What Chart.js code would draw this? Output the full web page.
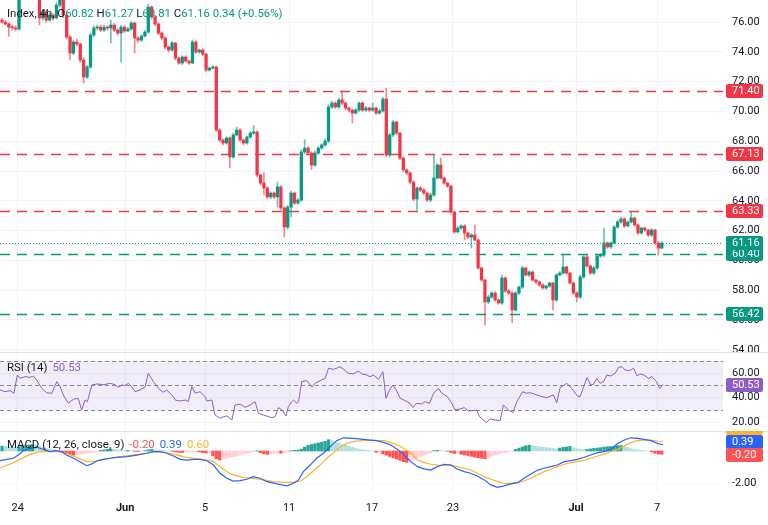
<!DOCTYPE html>
<html lang="en">
<head>
  <meta charset="UTF-8">
  <title>Index, 4h</title>
  <script src="https://cdn.jsdelivr.net/npm/chart.js"></script>
  <style>
    body { margin: 0; background: #fff; font-family: Roboto, sans-serif; }
    #wrap { position: relative; width: 768px; height: 525px; overflow: hidden; background: #fff; }
    canvas { position: absolute; left: 0; }
    .lg { position: absolute; left: 7px; font-size: 11.4px; line-height: 14px; color: #131722; white-space: pre; }
    .up { color: #089981; }
    .gap { margin-left: 5px; }
  </style>
</head>
<body>
<div id="wrap">
  <canvas id="price" width="768" height="352" style="top:0"></canvas>
  <canvas id="rsi" width="768" height="79" style="top:352px"></canvas>
  <canvas id="macd" width="768" height="94" style="top:431px"></canvas>
  <div class="lg" id="head" style="top:6px"></div>
  <div class="lg" id="rsiLg" style="top:360px"></div>
  <div class="lg" id="macdLg" style="top:437px"></div>
</div>
<script>
// time axis
const tickLabels = ['24', 'Jun', '5', '11', '17', '23', 'Jul', '7'];
const tickBars = [4.6, 36.2, 59.7, 84.4, 108.8, 132.6, 168.8, 192.6];
const monthLabels = ['Jun', 'Jul'];

// 4h candles
const opens = [76.13,76.00,75.87,75.66,75.60,75.53,78.15,78.40,78.60,78.30,78.50,78.20,76.27,76.67,76.13,76.47,76.27,77.14,78.01,76.47,
  74.99,73.92,74.66,74.52,73.45,72.31,72.98,75.13,75.60,75.66,75.46,75.66,75.60,75.80,75.46,75.26,75.66,75.40,75.53,75.93,
  74.93,74.79,75.06,75.33,77.01,76.34,75.87,75.26,74.93,74.32,74.12,74.59,73.58,73.25,73.65,73.38,73.25,74.66,73.99,74.12,
  73.85,72.78,72.91,72.98,68.75,68.08,67.88,68.22,66.94,68.42,68.75,68.08,67.88,68.28,68.55,68.62,65.73,65.19,64.86,64.26,
  64.52,64.26,64.93,63.52,62.24,63.58,64.52,63.85,64.05,67.28,67.54,67.21,66.40,67.21,67.54,67.75,68.01,70.30,70.56,70.30,
  70.77,70.56,70.23,70.09,69.89,70.09,70.56,70.09,70.23,70.09,70.23,69.89,70.03,70.83,67.07,68.42,69.29,68.55,66.87,66.07,
  65.87,65.26,64.12,64.86,64.73,64.52,64.05,64.39,65.53,66.40,65.53,65.19,64.99,63.25,61.91,62.17,62.31,61.84,61.57,61.70,
  61.37,59.49,58.68,57.21,57.54,57.81,57.34,57.14,58.82,57.95,57.81,56.67,57.81,58.21,59.49,59.02,59.22,58.68,58.55,58.35,
  58.15,58.28,58.48,57.34,59.02,59.15,59.56,59.15,58.48,57.81,57.54,58.89,60.23,59.62,59.15,59.49,60.29,60.36,61.17,60.90,
  61.17,62.24,62.58,62.78,62.31,62.58,62.85,62.38,61.84,62.17,62.04,61.70,62.04,61.17,60.82];
const highs = [76.25,76.10,75.95,75.80,75.75,78.48,78.70,78.90,78.80,78.70,78.60,78.30,76.85,76.80,76.60,76.55,77.30,78.30,78.10,76.60,
  75.10,74.80,74.85,74.60,73.60,73.10,75.25,75.75,75.80,75.80,75.80,75.75,76.13,75.90,75.55,75.80,75.75,75.65,76.05,76.00,
  75.00,75.15,75.45,77.20,77.10,76.45,75.95,75.35,75.00,74.40,74.70,74.65,73.65,73.75,73.75,73.45,74.80,74.75,74.20,74.20,
  73.90,73.00,73.10,73.05,68.85,68.15,68.30,68.30,68.55,68.95,68.85,68.15,68.35,68.65,69.05,68.70,65.80,65.87,64.95,64.60,
  64.60,65.26,65.00,63.60,63.70,64.65,64.60,64.15,67.45,68.10,67.65,67.30,67.35,67.65,67.85,68.15,70.45,70.70,70.65,70.90,
  71.30,70.65,70.30,70.15,70.20,70.65,70.65,70.35,70.30,70.56,70.30,70.15,70.95,71.55,68.55,69.40,69.35,68.60,66.95,66.15,
  65.95,65.35,64.95,64.95,64.80,64.60,64.50,67.07,66.50,66.87,65.60,65.25,65.05,63.30,62.30,62.40,62.40,61.90,61.80,62.38,
  61.45,59.55,58.75,57.65,57.90,57.90,57.40,59.02,58.90,58.05,57.90,57.90,58.30,59.60,59.55,59.30,59.30,58.75,58.60,58.45,
  58.35,58.55,58.55,59.10,59.25,60.36,59.60,59.20,58.55,57.90,59.00,60.35,60.36,59.70,59.60,60.36,60.45,62.17,61.25,61.25,
  62.35,62.70,62.90,62.85,62.65,63.25,62.90,62.45,62.25,62.25,62.10,62.15,62.10,61.25,61.27];
const lows = [75.93,75.80,75.06,75.45,75.40,75.45,78.00,78.20,78.10,78.10,77.90,75.80,76.13,76.00,76.05,76.13,76.20,77.00,76.30,74.85,
  73.45,73.80,74.40,73.30,71.91,72.20,72.90,75.00,75.45,75.35,75.35,75.45,74.59,75.35,75.10,73.32,75.30,75.35,75.45,73.92,
  74.65,74.70,75.00,75.25,76.20,75.75,75.15,74.80,74.20,74.00,74.05,73.45,73.15,73.15,73.30,73.15,73.20,73.90,73.90,73.75,
  72.65,72.70,72.85,68.65,67.95,67.75,67.80,66.20,66.85,68.35,67.95,67.75,67.80,68.20,68.45,65.60,65.05,64.39,64.15,64.15,
  64.15,63.58,63.40,61.57,62.10,62.91,63.75,63.75,63.95,67.15,67.10,66.10,66.30,67.10,67.45,67.65,67.90,70.20,70.20,70.20,
  70.45,70.10,69.95,69.22,69.80,70.00,70.00,70.00,70.00,70.00,69.80,69.80,69.95,66.95,66.95,68.30,68.45,66.75,65.95,65.75,
  65.15,64.00,63.38,64.60,64.40,63.95,63.95,64.30,65.45,65.45,65.10,64.90,63.15,61.80,61.85,62.10,61.37,61.45,60.83,61.30,
  59.40,58.60,55.67,57.10,57.45,57.25,57.05,57.05,57.85,57.70,55.80,56.60,57.70,58.10,58.95,58.90,58.60,58.45,58.25,58.05,
  58.05,58.20,56.67,57.25,58.95,59.05,59.05,58.40,57.70,57.21,57.45,58.80,59.55,59.05,59.05,59.40,60.20,60.25,60.80,60.80,
  61.10,62.15,62.50,62.20,62.25,62.50,62.30,61.75,61.75,61.95,61.60,61.60,61.05,60.36,60.81];
const closes = [76.00,75.87,75.66,75.60,75.53,78.15,78.40,78.60,78.30,78.50,78.20,76.27,76.67,76.13,76.47,76.27,77.14,78.01,76.47,74.99,
  73.92,74.66,74.52,73.45,72.31,72.98,75.13,75.60,75.66,75.46,75.66,75.60,75.80,75.46,75.26,75.66,75.40,75.53,75.93,74.93,
  74.79,75.06,75.33,77.01,76.34,75.87,75.26,74.93,74.32,74.12,74.59,73.58,73.25,73.65,73.38,73.25,74.66,73.99,74.12,73.85,
  72.78,72.91,72.98,68.75,68.08,67.88,68.22,66.94,68.42,68.75,68.08,67.88,68.28,68.55,68.62,65.73,65.19,64.86,64.26,64.52,
  64.26,64.93,63.52,62.24,63.58,64.52,63.85,64.05,67.28,67.54,67.21,66.40,67.21,67.54,67.75,68.01,70.30,70.56,70.30,70.77,
  70.56,70.23,70.09,69.89,70.09,70.56,70.09,70.23,70.09,70.23,69.89,70.03,70.83,67.07,68.42,69.29,68.55,66.87,66.07,65.87,
  65.26,64.12,64.86,64.73,64.52,64.05,64.39,65.53,66.40,65.53,65.19,64.99,63.25,61.91,62.17,62.31,61.84,61.57,61.70,61.37,
  59.49,58.68,57.21,57.54,57.81,57.34,57.14,58.82,57.95,57.81,56.67,57.81,58.21,59.49,59.02,59.22,58.68,58.55,58.35,58.15,
  58.28,58.48,57.34,59.02,59.15,59.56,59.15,58.48,57.81,57.54,58.89,60.23,59.62,59.15,59.49,60.29,60.36,61.17,60.90,61.17,
  62.24,62.58,62.78,62.31,62.58,62.85,62.38,61.84,62.17,62.04,61.70,62.04,61.17,60.82,61.16];

// horizontal levels and price ticks
const priceLevels = [71.40, 67.13, 63.33, 60.40, 56.42];
const priceTicks = [54, 56, 58, 60, 62, 64, 66, 68, 70, 72, 74, 76];

// RSI (14)
const rsiBars = [-0.6,0.9,2.4,3.5,4.5,5.3,6.8,8.2,9.2,10.2,11.7,13.1,14.6,16.1,17.1,18.0,19.5,21.0,22.4,23.4,
  24.4,25.1,26.4,27.9,29.8,31.8,33.2,34.2,35.2,36.2,37.2,38.1,39.1,40.6,42.1,43.0,44.5,46.0,47.4,48.4,
  49.4,50.4,50.9,52.4,53.8,54.8,55.8,56.8,58.2,59.7,60.2,61.7,62.6,64.1,65.1,66.1,67.6,68.5,70.0,71.5,
  72.9,74.4,75.4,76.9,78.3,79.3,80.3,81.3,82.3,83.5,84.2,85.2,85.7,86.7,87.2,88.1,89.6,91.1,92.1,93.5,
  95.0,96.0,97.4,98.4,99.4,100.4,101.9,103.3,104.8,105.8,107.3,108.2,109.2,110.7,112.0,112.9,113.9,114.9,115.9,117.1,
  118.5,120.0,120.8,121.8,123.4,124.4,125.7,126.9,128.3,129.3,130.9,132.3,133.2,134.7,135.9,137.1,138.4,139.6,140.4,141.4,
  142.4,143.5,145.0,146.5,147.4,148.9,150.2,151.4,153.1,154.3,155.3,157.3,158.7,160.2,162.1,163.1,164.1,166.1,167.5,169.2,
  170.0,172.0,173.1,173.9,174.9,175.9,176.9,177.8,179.0,180.3,181.3,182.3,183.2,184.5,185.7,186.7,187.6,188.8,190.1,191.1,
  192.4,193.4,194.4];
const rsiValues = [46.2,44.8,45.6,43.5,58.4,55.7,57.1,56.5,57.6,54.3,47.5,44.0,43.4,53.0,48.9,42.1,35.3,38.6,39.4,29.9,
  38.0,36.6,50.2,51.1,50.5,51.6,50.5,48.4,50.2,50.0,51.6,48.9,44.8,46.2,48.9,59.8,53.0,47.5,44.3,46.2,
  43.5,40.8,38.0,37.2,38.0,36.7,48.9,43.5,44.8,40.8,37.2,38.0,25.8,23.1,24.4,25.0,21.7,33.9,34.7,32.0,
  33.9,36.7,27.1,25.8,24.4,23.6,24.4,31.8,29.9,25.0,32.6,36.7,38.0,35.3,36.7,53.0,53.8,48.9,51.6,53.8,
  55.7,63.9,63.1,63.9,65.2,63.1,59.8,59.3,61.7,59.3,58.4,57.0,58.4,54.9,61.1,39.4,46.2,50.2,46.2,39.4,
  37.5,35.3,31.8,35.3,34.8,36.7,35.3,43.5,47.5,43.5,40.8,35.3,29.9,30.7,31.8,29.1,29.3,29.9,24.4,22.2,
  19.5,22.5,21.7,21.2,33.9,29.9,27.7,36.7,44.8,43.5,44.0,42.1,40.8,39.9,42.1,35.8,48.1,51.6,47.5,41.3,
  40.8,56.3,50.2,50.8,55.7,51.6,53.0,58.4,57.6,59.8,64.7,65.2,62.5,62.0,63.9,57.6,59.3,58.4,55.7,57.1,
  53.0,47.5,50.53];
const rsiLevels = [70, 50, 30];
const rsiTicks = [20, 40, 60];

// MACD (12, 26, close, 9)
const macdBars = [-0.6,1.4,3.3,4.8,6.3,8.2,10.2,12.2,14.1,15.6,17.5,19.0,21.0,22.9,24.9,26.4,27.8,29.8,31.8,33.7,
  36.7,39.6,42.5,44.5,46.5,48.4,50.4,52.4,54.3,56.3,58.2,60.2,62.2,64.1,66.1,68.0,70.0,72.0,73.9,75.9,
  77.9,80.8,83.7,85.7,87.2,88.6,90.6,92.5,94.5,96.5,98.4,100.4,103.3,106.3,108.2,110.2,
  112.4,114.3,116.3,118.2,120.2,122.2,124.1,126.1,128.0,130.0,132.0,133.9,135.9,137.8,139.8,141.8,143.7,145.7,147.6,149.6,
  151.6,153.5,155.5,157.5,159.4,161.4,163.3,165.3,167.3,169.2,171.2,173.1,175.1,177.1,179.0,181.0,183.0,184.9,186.9,188.8,
  190.8,192.7,194.4];
const macdValues = [-0.60,-0.52,-0.45,-0.25,0.02,0.16,0.23,0.10,-0.04,0.02,-0.04,-0.25,-0.45,-0.66,-0.91,-0.80,-0.62,-0.52,-0.45,-0.39,
  -0.35,-0.25,-0.14,-0.04,-0.04,-0.14,-0.31,-0.52,-0.56,-0.52,-0.52,-0.60,-0.87,-1.38,-1.69,-1.86,-1.84,-1.75,-1.59,-1.69,
  -1.90,-2.04,-2.16,-2.00,-1.79,-1.28,-0.87,-0.45,-0.14,0.27,0.64,0.82,0.78,0.72,0.68,0.64,
  0.52,0.37,0.10,-0.25,-0.66,-0.97,-1.11,-1.18,-0.97,-0.82,-0.87,-1.13,-1.28,-1.38,-1.55,-1.79,-2.10,-2.25,-2.16,-2.04,
  -1.96,-1.69,-1.42,-1.18,-1.07,-0.97,-0.87,-0.66,-0.60,-0.52,-0.39,-0.25,-0.10,-0.04,0.10,0.47,0.68,0.82,0.78,0.72,
  0.64,0.47,0.39];
const signalBars = [-0.6,2.4,5.3,8.2,11.2,14.1,16.6,19.0,22.0,24.9,26.9,28.8,31.8,34.7,38.6,42.5,45.5,48.4,51.4,54.3,
  57.3,60.2,62.2,64.1,66.1,68.0,71.0,73.9,76.9,79.8,82.7,85.7,87.7,89.6,91.6,93.5,95.5,97.5,99.4,101.4,
  103.3,105.3,108.2,111.2,
  112.4,114.3,116.3,118.2,120.2,122.2,124.1,126.1,128.0,130.0,132.0,133.9,135.9,137.8,139.8,141.8,143.7,145.7,147.6,149.6,
  151.6,153.5,155.5,157.5,159.4,161.4,163.3,165.3,167.3,169.2,171.2,173.1,175.1,177.1,179.0,181.0,183.0,184.9,186.9,188.8,
  190.8,192.7,194.4];
const signalValues = [-1.07,-0.80,-0.52,-0.21,-0.04,-0.04,-0.04,-0.14,-0.41,-0.66,-0.66,-0.56,-0.45,-0.35,-0.25,-0.14,-0.04,-0.10,-0.25,-0.39,
  -0.47,-0.56,-0.66,-0.97,-1.28,-1.48,-1.65,-1.69,-1.79,-1.90,-1.94,-1.94,-1.86,-1.59,-1.22,-0.87,-0.45,-0.10,0.23,0.47,
  0.58,0.64,0.68,0.64,
  0.64,0.52,0.37,0.16,-0.14,-0.56,-0.72,-0.82,-0.87,-0.89,-0.87,-0.97,-1.07,-1.18,-1.38,-1.59,-1.75,-1.90,-2.00,-2.00,
  -1.96,-1.86,-1.69,-1.48,-1.28,-1.13,-0.97,-0.82,-0.72,-0.66,-0.56,-0.45,-0.31,-0.19,-0.04,0.10,0.31,0.52,0.64,0.68,
  0.68,0.62,0.60];
const histValues = [0.30,0.28,0.26,0.24,0.22,0.26,0.32,0.36,0.38,0.40,0.36,0.30,0.22,0.16,0.12,0.08,0.05,0.03,-0.06,-0.14,
  -0.22,-0.26,-0.22,-0.18,-0.15,-0.13,-0.11,-0.08,-0.04,0.04,0.07,0.10,0.12,0.10,0.07,0.05,0.03,0.04,0.02,-0.02,
  -0.03,-0.01,0.02,0.07,0.10,0.08,0.06,0.05,0.03,0.01,-0.02,-0.06,-0.08,-0.09,-0.07,-0.05,-0.04,-0.03,-0.05,-0.10,
  -0.13,-0.11,-0.30,-0.48,-0.56,-0.52,-0.46,-0.40,-0.35,-0.30,-0.25,-0.20,-0.15,-0.09,-0.04,0.02,-0.10,-0.18,-0.21,-0.18,
  -0.15,-0.10,-0.14,-0.10,-0.05,0.02,0.04,0.06,0.12,0.25,0.35,0.40,0.45,0.50,0.55,0.60,0.70,0.64,0.56,0.48,
  0.42,0.35,0.30,0.25,0.18,0.12,0.08,0.05,0.03,0.01,-0.08,-0.06,-0.18,-0.25,-0.34,-0.42,-0.50,-0.58,-0.66,-0.70,
  -0.68,-0.52,-0.42,-0.34,-0.26,-0.18,-0.12,0.02,0.03,0.02,0.01,-0.02,-0.10,-0.15,-0.14,-0.20,-0.24,-0.28,-0.33,-0.38,
  -0.42,-0.45,-0.48,-0.44,-0.32,-0.24,-0.18,-0.13,-0.10,-0.06,-0.03,0.10,0.18,0.25,0.32,0.36,0.32,0.29,0.26,0.23,
  0.21,0.18,0.16,0.14,0.18,0.22,0.25,0.28,0.20,0.14,0.11,0.08,0.10,0.13,0.16,0.18,0.21,0.24,0.26,0.28,
  0.30,0.33,0.34,0.27,0.21,0.15,0.10,0.06,0.04,0.02,0.00,-0.06,-0.14,-0.19,-0.20];
const macdTicks = [-2];

// ---- look ----
const UP = '#089981', DOWN = '#F23645';
const RSI_C = '#8E5CC8', MACD_C = '#2962FF', SIG_C = '#FDB42A';
const GRID = '#F0F3FA', SEP = '#E0E3EB', FONT = 'Roboto';
const xMin = -0.6, xMax = 212;
Chart.defaults.font.family = FONT;
Chart.defaults.font.size = 11;
Chart.defaults.color = '#131722';

const last = closes.length - 1;
const bars = closes.map((_, i) => i);

// scales must not push the plot area in for their edge labels
function noPad(s) { s.paddingTop = 0; s.paddingBottom = 0; s.paddingLeft = 0; s.paddingRight = 0; }

function xScale(showLabels) {
  return {
    type: 'linear', min: xMin, max: xMax, offset: false,
    afterBuildTicks: s => { s.ticks = tickBars.map(v => ({ value: v })); },
    grid: { color: GRID, drawTicks: false, offset: false },
    border: { display: false },
    ticks: {
      display: showLabels, autoSkip: false, maxRotation: 0, padding: 10,
      callback: (v, i) => tickLabels[i],
      font: c => ({ family: FONT, size: 11, weight: monthLabels.includes(tickLabels[c.index]) ? 'bold' : 'normal' })
    },
    afterFit: s => { s.height = showLabels ? 33 : 0; noPad(s); }
  };
}
function yScale(min, max, ticks, dash) {
  return {
    position: 'right', min: min, max: max,
    afterBuildTicks: s => { s.ticks = ticks.map(v => ({ value: v })); },
    ticks: { padding: 9, callback: v => v.toFixed(2) },
    grid: { color: GRID, drawTicks: false },
    border: { display: false, dash: dash || [] },
    afterFit: s => { s.width = 45; noPad(s); }
  };
}
function box(ctx, y, bg, text) {
  ctx.fillStyle = bg;
  ctx.beginPath();
  ctx.roundRect(726, Math.round(y) - 7, 37, 14, 2);
  ctx.fill();
  ctx.fillStyle = '#fff';
  ctx.font = '11px ' + FONT;
  ctx.textBaseline = 'middle';
  ctx.textAlign = 'left';
  ctx.fillText(text, 732, Math.round(y) + 0.5);
}
function separator(ctx) {
  ctx.save();
  ctx.strokeStyle = SEP; ctx.lineWidth = 1;
  ctx.beginPath(); ctx.moveTo(0, 0.5); ctx.lineTo(768, 0.5); ctx.stroke();
  ctx.restore();
}
const baseOpts = {
  responsive: false, animation: false, events: [],
  layout: { padding: 0, autoPadding: false },
  plugins: { legend: { display: false }, tooltip: { enabled: false } }
};

// price pane
new Chart(document.getElementById('price'), {
  type: 'bar',
  data: {
    datasets: [
      {
        data: bars.map(i => ({ x: i, y: [opens[i], closes[i]] })),
        backgroundColor: bars.map(i => closes[i] >= opens[i] ? UP : DOWN),
        barThickness: 2.6, grouped: false, minBarLength: 1
      },
      {
        data: bars.map(i => ({ x: i, y: [lows[i], highs[i]] })),
        backgroundColor: bars.map(i => closes[i] >= opens[i] ? 'rgba(8,153,129,0.6)' : 'rgba(242,54,69,0.6)'),
        barThickness: 1, grouped: false
      }
    ]
  },
  options: Object.assign({}, baseOpts, {
    scales: { x: xScale(false), y: yScale(53.85, 77.48, priceTicks) }
  }),
  plugins: [{
    id: 'levels',
    beforeDatasetsDraw(chart) {
      const { ctx, chartArea: a, scales: { y } } = chart;
      ctx.save();
      ctx.lineWidth = 1.5;
      ctx.setLineDash([10, 7]);
      priceLevels.forEach(v => {
        const py = Math.round(y.getPixelForValue(v)) + 0.5;
        ctx.strokeStyle = v > closes[last] ? DOWN : UP;
        ctx.beginPath(); ctx.moveTo(a.left, py); ctx.lineTo(a.right, py); ctx.stroke();
      });
      ctx.lineWidth = 1;
      ctx.setLineDash([1, 2]);
      ctx.strokeStyle = UP;
      const lp = Math.round(y.getPixelForValue(closes[last])) + 0.5;
      ctx.beginPath(); ctx.moveTo(a.left, lp); ctx.lineTo(a.right, lp); ctx.stroke();
      ctx.restore();
    },
    afterDraw(chart) {
      const { ctx, scales: { y } } = chart;
      ctx.save();
      priceLevels.forEach(v => box(ctx, y.getPixelForValue(v), v > closes[last] ? DOWN : UP, v.toFixed(2)));
      box(ctx, y.getPixelForValue(closes[last]), UP, closes[last].toFixed(2));
      ctx.restore();
    }
  }]
});

// RSI pane
new Chart(document.getElementById('rsi'), {
  type: 'line',
  data: {
    datasets: [{
      data: rsiBars.map((b, i) => ({ x: b, y: rsiValues[i] })),
      borderColor: RSI_C, borderWidth: 1, pointRadius: 0, tension: 0
    }]
  },
  options: Object.assign({}, baseOpts, {
    scales: { x: xScale(false), y: yScale(12.7, 77.2, rsiTicks) }
  }),
  plugins: [{
    id: 'band',
    beforeDatasetsDraw(chart) {
      const { ctx, chartArea: a, scales: { y } } = chart;
      ctx.save();
      const top = y.getPixelForValue(rsiLevels[0]), bot = y.getPixelForValue(rsiLevels[2]);
      ctx.fillStyle = 'rgba(126,87,194,0.1)';
      ctx.fillRect(a.left, top, a.right - a.left, bot - top);
      ctx.strokeStyle = '#868993'; ctx.lineWidth = 1; ctx.setLineDash([4, 3]);
      rsiLevels.forEach(v => {
        const py = Math.round(y.getPixelForValue(v)) + 0.5;
        ctx.beginPath(); ctx.moveTo(a.left, py); ctx.lineTo(a.right, py); ctx.stroke();
      });
      ctx.restore();
      separator(ctx);
    },
    afterDraw(chart) {
      const { ctx, scales: { y } } = chart;
      ctx.save();
      box(ctx, y.getPixelForValue(rsiValues[rsiValues.length - 1]), RSI_C, rsiValues[rsiValues.length - 1].toFixed(2));
      ctx.restore();
    }
  }]
});

// MACD pane
const histColors = histValues.map((h, i) => {
  const p = i ? histValues[i - 1] : h;
  return h >= 0 ? (h >= p ? '#26A69A' : '#B2DFDB') : (h < p ? '#FF5252' : '#FFCDD2');
});
new Chart(document.getElementById('macd'), {
  type: 'bar',
  data: {
    datasets: [
      { type: 'line', data: macdBars.map((b, i) => ({ x: b, y: macdValues[i] })), borderColor: MACD_C, borderWidth: 1.2, pointRadius: 0, tension: 0 },
      { type: 'line', data: signalBars.map((b, i) => ({ x: b, y: signalValues[i] })), borderColor: SIG_C, borderWidth: 1.2, pointRadius: 0, tension: 0 },
      { data: bars.map(i => ({ x: i, y: histValues[i] })), backgroundColor: histColors, barThickness: 2.6, grouped: false }
    ]
  },
  options: Object.assign({}, baseOpts, {
    scales: { x: xScale(true), y: yScale(-2.54, 1.24, macdTicks, [2, 2]) }
  }),
  plugins: [{
    id: 'macdBoxes',
    beforeDatasetsDraw(chart) { separator(chart.ctx); },
    afterDraw(chart) {
      const { ctx, scales: { y } } = chart;
      const m = macdValues[macdValues.length - 1], s = signalValues[signalValues.length - 1], h = histValues[last];
      // value boxes stack upwards when they would overlap
      const yh = y.getPixelForValue(h) + 1;
      const ym = Math.min(y.getPixelForValue(m), yh - 13.5);
      const ys = Math.min(y.getPixelForValue(s), ym - 13.5);
      ctx.save();
      box(ctx, ys, SIG_C, s.toFixed(2));
      box(ctx, ym, MACD_C, m.toFixed(2));
      box(ctx, yh, '#FF5252', h.toFixed(2));
      ctx.restore();
    }
  }]
});

// legends
const chg = closes[last] - closes[last - 1];
document.getElementById('head').innerHTML =
  'Index, 4h, O<span class="up">' + opens[last].toFixed(2) + '</span> H<span class="up">' + highs[last].toFixed(2) +
  '</span> L<span class="up">' + lows[last].toFixed(2) + '</span> C<span class="up">' + closes[last].toFixed(2) +
  ' ' + chg.toFixed(2) + ' (+' + (chg / closes[last - 1] * 100).toFixed(2) + '%)</span>';
document.getElementById('rsiLg').innerHTML =
  'RSI (14)<span class="gap" style="color:' + RSI_C + '">' + rsiValues[rsiValues.length - 1].toFixed(2) + '</span>';
document.getElementById('macdLg').innerHTML =
  'MACD (12, 26, close, 9)<span class="gap" style="color:#FF5252">' + histValues[last].toFixed(2) +
  '</span><span class="gap" style="color:' + MACD_C + '">' + macdValues[macdValues.length - 1].toFixed(2) +
  '</span><span class="gap" style="color:' + SIG_C + '">' + signalValues[signalValues.length - 1].toFixed(2) + '</span>';
</script>
</body>
</html>
